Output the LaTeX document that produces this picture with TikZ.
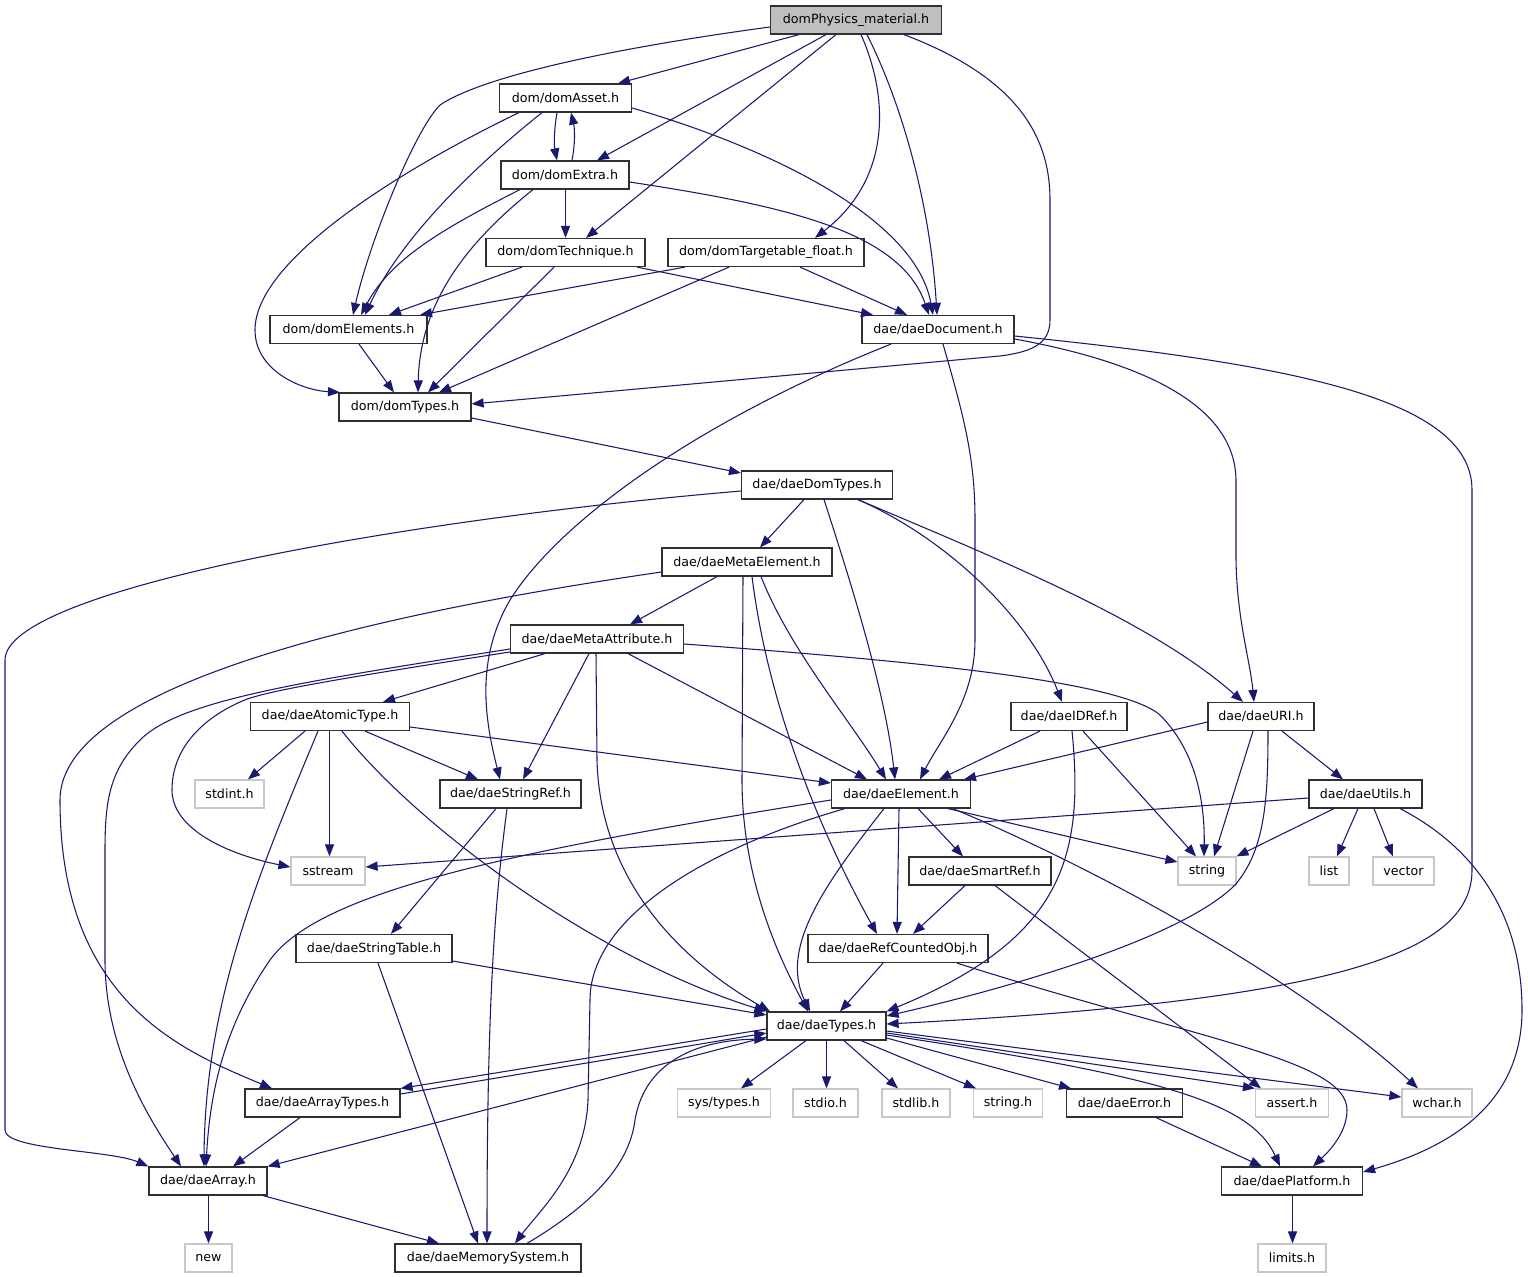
\documentclass[tikz,border=0pt]{standalone}
\usepackage{fontspec}
\setmainfont{DejaVu Sans}
\usetikzlibrary{arrows.meta}
\definecolor{edgecol}{HTML}{191970}
\definecolor{rootfill}{HTML}{BFBFBF}
\definecolor{sysgray}{HTML}{C8C8C8}
\definecolor{boxline}{HTML}{303030}
\tikzset{
  basebox/.style={rectangle, inner sep=0pt, minimum height=21pt, font=\fontsize{9.5}{11}\selectfont},
  box/.style={basebox, draw=boxline, line width=0.9pt, fill=white},
  rootbox/.style={basebox, draw=boxline, line width=0.9pt, fill=rootfill},
  sysbox/.style={basebox, draw=sysgray, line width=0.9pt, fill=white},
  e/.style={draw=edgecol, line width=0.8pt, -{Triangle[length=9pt,width=6.8pt]}, edgecol}
}
\newcommand\nd[6]{\node[#6, minimum width={#4*0.75pt}] (#1) at (#2,#3) {#5};}
\begin{document}
\begin{tikzpicture}[x=0.75pt,y=-0.75pt]
\fill[white] (0,0) rectangle (1528,1277);
\useasboundingbox (0,0) rectangle (1528,1277);
% nodes
\nd{root}{856}{20}{171}{domPhysics\_material.h}{rootbox}
\nd{asset}{565.5}{98}{132}{dom/domAsset.h}{box}
\nd{extra}{565}{175}{128}{dom/domExtra.h}{box}
\nd{tech}{565.5}{252.5}{159}{dom/domTechnique.h}{box}
\nd{targ}{766}{252.5}{196}{dom/domTargetable\_float.h}{box}
\nd{elems}{348.5}{329.5}{157}{dom/domElements.h}{box}
\nd{doc}{938}{329.5}{152}{dae/daeDocument.h}{box}
\nd{domtypes}{405}{407}{132}{dom/domTypes.h}{box}
\nd{domt}{817}{485}{151}{dae/daeDomTypes.h}{box}
\nd{metael}{747}{562}{170}{dae/daeMetaElement.h}{box}
\nd{metaat}{597}{639}{173}{dae/daeMetaAttribute.h}{box}
\nd{atomic}{330}{716.5}{159}{dae/daeAtomicType.h}{box}
\nd{idref}{1069}{716.5}{116}{dae/daeIDRef.h}{box}
\nd{uri}{1261}{716.5}{106}{dae/daeURI.h}{box}
\nd{stdint}{229.5}{794}{69}{stdint.h}{sysbox}
\nd{strref}{510.5}{794}{141}{dae/daeStringRef.h}{box}
\nd{elem}{901}{794}{139}{dae/daeElement.h}{box}
\nd{utils}{1365.5}{794}{113}{dae/daeUtils.h}{box}
\nd{sstream}{328}{871}{74}{sstream}{sysbox}
\nd{smart}{980}{871}{142}{dae/daeSmartRef.h}{box}
\nd{string}{1207}{871}{58}{string}{sysbox}
\nd{list}{1329}{871}{40}{list}{sysbox}
\nd{vector}{1403.5}{871}{61}{vector}{sysbox}
\nd{strtab}{374}{948.5}{156}{dae/daeStringTable.h}{box}
\nd{refc}{898}{948.5}{180}{dae/daeRefCountedObj.h}{box}
\nd{types}{826.5}{1026}{119}{dae/daeTypes.h}{box}
\nd{arrt}{322.5}{1103}{155}{dae/daeArrayTypes.h}{box}
\nd{systypes}{724}{1103}{93}{sys/types.h}{sysbox}
\nd{stdio}{825.5}{1103}{65}{stdio.h}{sysbox}
\nd{stdlib}{916}{1103}{68}{stdlib.h}{sysbox}
\nd{stringh}{1008}{1103}{69}{string.h}{sysbox}
\nd{error}{1124.5}{1103}{116}{dae/daeError.h}{box}
\nd{assert}{1292}{1103}{73}{assert.h}{sysbox}
\nd{wchar}{1437}{1103}{70}{wchar.h}{sysbox}
\nd{array}{208}{1181}{118}{dae/daeArray.h}{box}
\nd{platform}{1292}{1181}{141}{dae/daePlatform.h}{box}
\nd{new}{208.5}{1258}{47}{new}{sysbox}
\nd{memsys}{488}{1258}{186}{dae/daeMemorySystem.h}{box}
\nd{limits}{1292}{1258}{68}{limits.h}{sysbox}
% root
\draw[e] (root.west |- 0,27) .. controls (600,50) and (480,78) .. (440,105) .. controls (415,130) and (370,240) .. (elems.north -| 353,0);
\draw[e] (root.south -| 799,0) -- (asset.north -| 618,0);
\draw[e] (root.south -| 826,0) -- (extra.north -| 597,0);
\draw[e] (root.south -| 836,0) -- (tech.north -| 586,0);
\draw[e] (root.south -| 861,0) .. controls (890,100) and (890,180) .. (targ.north -| 815,0);
\draw[e] (root.south -| 867,0) .. controls (900,100) and (930,200) .. (doc.north -| 937,0);
\draw[e] (root.south -| 904,0) .. controls (1010,75) and (1050,130) .. (1050,200) -- (1050,320) .. controls (1050,345) and (1030,352) .. (1000,356) -- (domtypes.east |- 0,404);
% domAsset / domExtra
\draw[e] (asset.south -| 557,0) .. controls (554,130) and (554,145) .. (extra.north -| 557,0);
\draw[e] (extra.north -| 572,0) .. controls (575,145) and (575,130) .. (asset.south -| 571,0);
\draw[e] (asset.south -| 542,0) .. controls (470,170) and (400,240) .. (elems.north -| 365,0);
\draw[e] (asset.south -| 519,0) .. controls (400,170) and (255,260) .. (255,330) .. controls (255,370) and (300,390) .. (domtypes.north -| 340,0);
\draw[e] (asset.east |- 0,108) .. controls (760,145) and (915,215) .. (doc.north -| 933,0);
\draw[e] (extra.south -| 565.5,0) -- (tech.north -| 565.5,0);
\draw[e] (extra.south -| 520,0) .. controls (440,230) and (390,260) .. (elems.north -| 361,0);
\draw[e] (extra.south -| 533,0) .. controls (470,240) and (420,300) .. (domtypes.north -| 418,0);
\draw[e] (extra.east |- 0,182) .. controls (780,205) and (900,230) .. (doc.north -| 929,0);
% domTechnique / domTargetable / domElements
\draw[e] (tech.south -| 522,0) -- (elems.north -| 389,0);
\draw[e] (tech.south -| 554,0) -- (domtypes.north -| 428,0);
\draw[e] (tech.south -| 637,0) -- (doc.north -| 873,0);
\draw[e] (targ.south -| 685,0) -- (elems.north -| 420,0);
\draw[e] (targ.south -| 729,0) -- (domtypes.north -| 439,0);
\draw[e] (targ.south -| 800,0) -- (doc.north -| 907,0);
\draw[e] (elems.south -| 359,0) -- (domtypes.north -| 394,0);
% daeDocument
\draw[e] (doc.south -| 891,0) .. controls (700,420) and (560,520) .. (510,600) .. controls (475,660) and (485,720) .. (strref.north -| 500,0);
\draw[e] (doc.south -| 943,0) .. controls (965,420) and (975,460) .. (975,520) -- (975,640) .. controls (975,700) and (940,740) .. (elem.north -| 920,0);
\draw[e] (doc.east |- 0,339) .. controls (1130,360) and (1235,400) .. (1236,480) -- (1236,560) .. controls (1237,620) and (1250,660) .. (uri.north -| 1254,0);
\draw[e] (doc.east |- 0,336) .. controls (1300,365) and (1472,400) .. (1472,490) -- (1472,870) .. controls (1472,950) and (1350,1000) .. (types.east |- 0,1024);
% domTypes
\draw[e] (domtypes.east |- 0,418) -- (domt.west |- 0,473);
% daeDomTypes
\draw[e] (domt.west |- 0,491) .. controls (400,520) and (5,590) .. (5,660) -- (5,1130) .. controls (5,1150) and (110,1150) .. (array.north west);
\draw[e] (domt.south -| 804,0) -- (metael.north -| 760,0);
\draw[e] (domt.south -| 824,0) .. controls (850,580) and (885,690) .. (elem.north -| 895,0);
\draw[e] (domt.south -| 858,0) .. controls (950,540) and (1030,620) .. (idref.north -| 1062,0);
\draw[e] (domt.south -| 858,0) .. controls (1000,560) and (1150,620) .. (uri.north -| 1243,0);
% daeMetaElement
\draw[e] (metael.west |- 0,572) .. controls (400,610) and (60,680) .. (60,800) .. controls (60,1000) and (180,1050) .. (arrt.north -| 272,0);
\draw[e] (metael.south -| 717,0) -- (metaat.north -| 630,0);
\draw[e] (metael.south -| 743,0) -- (742,780) .. controls (742,880) and (780,960) .. (types.north -| 808,0);
\draw[e] (metael.south -| 752,0) .. controls (770,720) and (830,850) .. (refc.north -| 877,0);
\draw[e] (metael.south -| 761,0) .. controls (790,650) and (850,720) .. (elem.north -| 886,0);
% daeMetaAttribute
\draw[e] (metaat.south -| 545,0) -- (atomic.north -| 383,0);
\draw[e] (metaat.west |- 0,649) .. controls (300,682) and (180,700) .. (140,740) .. controls (110,770) and (105,800) .. (105,850) -- (105,960) .. controls (105,1050) and (150,1120) .. (array.north -| 181,0);
\draw[e] (metaat.west |- 0,652) .. controls (330,680) and (260,692) .. (240,702) .. controls (200,720) and (172,750) .. (172,790) .. controls (172,830) and (230,855) .. (sstream.west |- 0,867);
\draw[e] (metaat.south -| 589,0) -- (strref.north -| 523,0);
\draw[e] (metaat.south -| 596,0) -- (597,760) .. controls (600,880) and (680,960) .. (types.north -| 770,0);
\draw[e] (metaat.south -| 628,0) -- (elem.north -| 867,0);
\draw[e] (metaat.east |- 0,644) .. controls (900,660) and (1120,680) .. (1160,715) .. controls (1195,750) and (1205,800) .. (string.north -| 1204,0);
% daeAtomicType
\draw[e] (atomic.south -| 305,0) -- (stdint.north -| 248,0);
\draw[e] (atomic.south -| 329.5,0) -- (sstream.north -| 329.5,0);
\draw[e] (atomic.south -| 365,0) -- (strref.north -| 478,0);
\draw[e] (atomic.east |- 0,727) -- (elem.west |- 0,783);
\draw[e] (atomic.south -| 318,0) .. controls (260,870) and (205,1000) .. (array.north -| 204,0);
\draw[e] (atomic.south -| 342,0) .. controls (420,830) and (600,960) .. (types.north west);
% daeIDRef
\draw[e] (idref.south -| 1040,0) -- (elem.north -| 939,0);
\draw[e] (idref.south -| 1083,0) -- (string.north -| 1196,0);
\draw[e] (idref.south -| 1072,0) .. controls (1085,860) and (1060,940) .. (types.north east);
% daeURI
\draw[e] (uri.west |- 0,722) -- (elem.north -| 964,0);
\draw[e] (uri.south -| 1253,0) -- (string.north -| 1214,0);
\draw[e] (uri.south -| 1282,0) -- (utils.north -| 1343,0);
\draw[e] (uri.south -| 1268,0) .. controls (1268,800) and (1265,850) .. (1235,885) .. controls (1180,940) and (1000,990) .. (types.east |- 0,1016);
% daeStringRef
\draw[e] (strref.south -| 496,0) -- (strtab.north -| 391,0);
\draw[e] (strref.south -| 507,0) .. controls (495,900) and (487,1000) .. (memsys.north -| 487,0);
% daeElement
\draw[e] (elem.west |- 0,800) .. controls (520,850) and (320,890) .. (270,960) .. controls (225,1025) and (210,1090) .. (array.north -| 206,0);
\draw[e] (elem.south -| 845,0) .. controls (700,850) and (590,920) .. (590,1000) -- (588,1100) .. controls (585,1170) and (540,1210) .. (memsys.north -| 515,0);
\draw[e] (elem.south -| 884,0) .. controls (820,890) and (780,950) .. (types.north -| 810,0);
\draw[e] (elem.south -| 899,0) -- (refc.north -| 897,0);
\draw[e] (elem.south -| 918,0) -- (smart.north -| 963,0);
\draw[e] (elem.south -| 948,0) -- (string.west |- 0,862);
\draw[e] (elem.south -| 953,0) .. controls (1100,870) and (1300,980) .. (wchar.north -| 1418,0);
% daeUtils
\draw[e] (utils.west |- 0,798) -- (sstream.east |- 0,867);
\draw[e] (utils.south -| 1334,0) -- (string.north east);
\draw[e] (utils.south -| 1358,0) -- (list.north -| 1337,0);
\draw[e] (utils.south -| 1374,0) -- (vector.north -| 1393,0);
\draw[e] (utils.south -| 1400,0) .. controls (1480,850) and (1522,920) .. (1522,1010) .. controls (1522,1110) and (1440,1150) .. (platform.east |- 0,1172);
% daeSmartRef
\draw[e] (smart.south -| 965,0) -- (refc.north -| 913,0);
\draw[e] (smart.south -| 995,0) -- (assert.north -| 1261,0);
% daeStringTable
\draw[e] (strtab.east |- 0,961) -- (types.west |- 0,1015);
\draw[e] (strtab.south -| 378,0) -- (memsys.north -| 478,0);
% daeRefCountedObj
\draw[e] (refc.south -| 883,0) -- (types.north -| 840,0);
\draw[e] (refc.south -| 957,0) .. controls (1200,1040) and (1347,1060) .. (1347,1110) .. controls (1347,1135) and (1325,1155) .. (platform.north -| 1313,0);
% daeTypes
\draw[e] (types.west |- 0,1029) -- (arrt.north east);
\draw[e] (arrt.east |- 0,1094) -- (types.west |- 0,1033);
\draw[e] (types.west |- 0,1037) -- (array.north east);
\draw[e] (memsys.north -| 527,0) .. controls (600,1200) and (630,1160) .. (635,1120) .. controls (645,1060) and (700,1040) .. (types.west |- 0,1039);
\draw[e] (types.south -| 806,0) -- (systypes.north -| 741,0);
\draw[e] (types.south -| 826.5,0) -- (stdio.north -| 826.5,0);
\draw[e] (types.south -| 844,0) -- (stdlib.north -| 898,0);
\draw[e] (types.south -| 861,0) -- (stringh.north -| 976,0);
\draw[e] (types.east |- 0,1038) -- (error.north -| 1071,0);
\draw[e] (types.east |- 0,1033) -- (assert.north west);
\draw[e] (types.east |- 0,1035) .. controls (1150,1075) and (1250,1100) .. (platform.north -| 1280,0);
\draw[e] (types.east |- 0,1031) -- (wchar.west |- 0,1097);
% bottom
\draw[e] (arrt.south -| 300,0) -- (array.north -| 233,0);
\draw[e] (array.south -| 208.5,0) -- (new.north -| 208.5,0);
\draw[e] (array.south -| 263,0) -- (memsys.north -| 439,0);
\draw[e] (error.south -| 1156,0) -- (platform.north -| 1262,0);
\draw[e] (platform.south -| 1292.5,0) -- (limits.north -| 1292.5,0);
\end{tikzpicture}
\end{document}
